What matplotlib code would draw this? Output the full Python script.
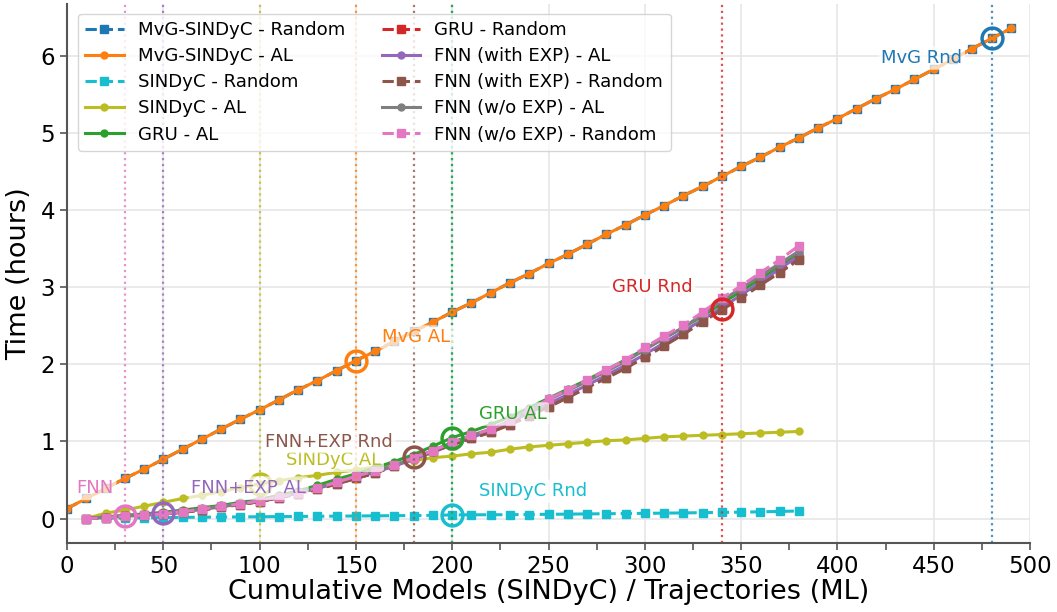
import numpy as np
import matplotlib
matplotlib.use("Agg")
import matplotlib.pyplot as plt
from matplotlib.ticker import MultipleLocator

# x positions
x_mvg = list(range(0, 500, 10))
x_main = list(range(10, 390, 10))

# MvG-SINDyC (hours)
mvg_al = [0.13, 0.26, 0.39, 0.52, 0.64, 0.77, 0.90, 1.03, 1.16, 1.29,
          1.41, 1.54, 1.67, 1.79, 1.92, 2.05, 2.17, 2.30, 2.43, 2.55,
          2.68, 2.80, 2.93, 3.06, 3.18, 3.31, 3.43, 3.56, 3.69, 3.81,
          3.94, 4.06, 4.19, 4.31, 4.44, 4.57, 4.69, 4.82, 4.94, 5.07,
          5.19, 5.32, 5.45, 5.57, 5.70, 5.83, 5.96, 6.10, 6.23, 6.36]
mvg_rnd = [0.13, 0.26, 0.39, 0.52, 0.64, 0.77, 0.90, 1.03, 1.16, 1.29,
           1.41, 1.54, 1.67, 1.79, 1.92, 2.05, 2.17, 2.30, 2.43, 2.55,
           2.68, 2.80, 2.93, 3.06, 3.18, 3.31, 3.43, 3.56, 3.69, 3.81,
           3.94, 4.06, 4.19, 4.31, 4.44, 4.57, 4.69, 4.82, 4.94, 5.07,
           5.19, 5.32, 5.45, 5.57, 5.70, 5.83, 5.96, 6.10, 6.23, 6.36]

# SINDyC
sindyc_rnd = [0.0, 0.003, 0.006, 0.009, 0.012, 0.015, 0.017, 0.019, 0.021, 0.023,
              0.025, 0.027, 0.029, 0.031, 0.033, 0.035, 0.037, 0.039, 0.041, 0.047,
              0.048, 0.049, 0.050, 0.052, 0.055, 0.057, 0.060, 0.062, 0.065, 0.067,
              0.070, 0.073, 0.076, 0.079, 0.083, 0.087, 0.092, 0.098]
sindyc_al = [0.0, 0.07, 0.11, 0.16, 0.21, 0.26, 0.30, 0.35, 0.40, 0.45,
             0.49, 0.53, 0.56, 0.60, 0.63, 0.67, 0.71, 0.75, 0.79, 0.81,
             0.84, 0.86, 0.90, 0.93, 0.95, 0.97, 0.99, 1.01, 1.02, 1.04,
             1.06, 1.07, 1.08, 1.09, 1.10, 1.11, 1.12, 1.13]

# NN models
gru_al = [0.0, 0.02, 0.04, 0.06, 0.08, 0.11, 0.14, 0.17, 0.21, 0.25,
          0.30, 0.36, 0.43, 0.51, 0.58, 0.66, 0.74, 0.83, 0.94, 1.05,
          1.13, 1.22, 1.32, 1.44, 1.56, 1.68, 1.80, 1.93, 2.06, 2.20,
          2.34, 2.48, 2.63, 2.79, 2.95, 3.11, 3.27, 3.44]
gru_rnd = [0.0, 0.01, 0.03, 0.04, 0.06, 0.08, 0.11, 0.15, 0.18, 0.22,
           0.27, 0.32, 0.38, 0.45, 0.52, 0.59, 0.68, 0.78, 0.87, 0.96,
           1.04, 1.12, 1.22, 1.33, 1.45, 1.57, 1.70, 1.83, 1.96, 2.10,
           2.25, 2.40, 2.56, 2.72, 2.87, 3.04, 3.20, 3.37]
fnn_exp_al = [0.0, 0.02, 0.04, 0.05, 0.07, 0.09, 0.12, 0.15, 0.19, 0.23,
              0.28, 0.33, 0.39, 0.46, 0.53, 0.60, 0.68, 0.77, 0.86, 0.96,
              1.05, 1.14, 1.25, 1.37, 1.49, 1.61, 1.73, 1.86, 1.99, 2.13,
              2.28, 2.43, 2.58, 2.74, 2.90, 3.07, 3.24, 3.41]
fnn_exp_rnd = [0.0, 0.01, 0.03, 0.04, 0.06, 0.08, 0.11, 0.15, 0.18, 0.22,
               0.27, 0.32, 0.38, 0.45, 0.52, 0.59, 0.68, 0.80, 0.87, 0.96,
               1.04, 1.12, 1.22, 1.33, 1.45, 1.57, 1.70, 1.82, 1.95, 2.09,
               2.24, 2.39, 2.55, 2.71, 2.86, 3.03, 3.19, 3.36]
fnn_al = [0.0, 0.01, 0.03, 0.04, 0.06, 0.09, 0.12, 0.16, 0.19, 0.23,
          0.28, 0.33, 0.40, 0.47, 0.55, 0.62, 0.69, 0.79, 0.88, 0.99,
          1.08, 1.16, 1.27, 1.40, 1.54, 1.66, 1.78, 1.91, 2.04, 2.19,
          2.34, 2.48, 2.65, 2.83, 2.99, 3.15, 3.31, 3.47]
fnn_rnd = [0.0, 0.01, 0.03, 0.04, 0.06, 0.09, 0.12, 0.16, 0.19, 0.23,
           0.28, 0.33, 0.40, 0.47, 0.55, 0.62, 0.69, 0.79, 0.88, 0.99,
           1.08, 1.16, 1.27, 1.40, 1.55, 1.67, 1.80, 1.93, 2.06, 2.22,
           2.37, 2.51, 2.68, 2.86, 3.02, 3.19, 3.36, 3.54]

# (series, x-value of marker, label, colour)
marks = [
    ("fnn_rnd", 30, "FNN", "#e377c2"),
    ("fnn_exp_al", 50, "FNN+EXP AL", "#9467bd"),
    ("sindyc_al", 100, "SINDyC AL", "#bcbd22"),
    ("mvg_al", 150, "MvG AL", "#ff7f0e"),
    ("fnn_exp_rnd", 180, "FNN+EXP Rnd", "#8c564b"),
    ("sindyc_rnd", 200, "SINDyC Rnd", "#17becf"),
    ("gru_al", 200, "GRU AL", "#2ca02c"),
    ("gru_rnd", 340, "GRU Rnd", "#d62728"),
    ("mvg_rnd", 480, "MvG Rnd", "#1f77b4"),
]
# text offsets in points
offsets = {
    "FNN": (-8, 20, "right"), "FNN+EXP AL": (20, 18, "left"),
    "SINDyC AL": (19, 17, "left"), "MvG AL": (19, 17, "left"),
    "FNN+EXP Rnd": (-15, 11, "right"), "SINDyC Rnd": (19, 17, "left"),
    "GRU AL": (19, 17, "left"), "GRU Rnd": (-21, 16, "right"),
    "MvG Rnd": (-21, -14, "right"),
}

series = {
    "mvg_rnd": (x_mvg, mvg_rnd), "mvg_al": (x_mvg, mvg_al),
    "sindyc_rnd": (x_main, sindyc_rnd), "sindyc_al": (x_main, sindyc_al),
    "gru_al": (x_main, gru_al), "gru_rnd": (x_main, gru_rnd),
    "fnn_exp_al": (x_main, fnn_exp_al), "fnn_exp_rnd": (x_main, fnn_exp_rnd),
    "fnn_al": (x_main, fnn_al), "fnn_rnd": (x_main, fnn_rnd),
}

styles = [
    ("mvg_rnd", "MvG-SINDyC - Random", "#1f77b4", "--", "s"),
    ("mvg_al", "MvG-SINDyC - AL", "#ff7f0e", "-", "o"),
    ("sindyc_rnd", "SINDyC - Random", "#17becf", "--", "s"),
    ("sindyc_al", "SINDyC - AL", "#bcbd22", "-", "o"),
    ("gru_al", "GRU - AL", "#2ca02c", "-", "o"),
    ("gru_rnd", "GRU - Random", "#d62728", "--", "s"),
    ("fnn_exp_al", "FNN (with EXP) - AL", "#9467bd", "-", "o"),
    ("fnn_exp_rnd", "FNN (with EXP) - Random", "#8c564b", "--", "s"),
    ("fnn_al", "FNN (w/o EXP) - AL", "#7f7f7f", "-", "o"),
    ("fnn_rnd", "FNN (w/o EXP) - Random", "#e377c2", "--", "s"),
]

fig = plt.figure(figsize=(10.57, 6.12), dpi=100)
ax = fig.add_axes([0.0634, 0.1127, 0.9111, 0.8808])

for key, label, color, ls, mk in styles:
    xs, ys = series[key]
    ax.plot(xs, ys, linestyle=ls, marker=mk, color=color, label=label,
            linewidth=2.2, markersize=5.5 if mk == "s" else 5)

for key, xv, text, color in marks:
    xs, ys = series[key]
    yv = ys[xs.index(xv)]
    ax.axvline(xv, color=color, linestyle=":", linewidth=1.6, alpha=0.8)
    ax.plot(xv, yv, marker="o", markersize=15, markerfacecolor="none",
            markeredgecolor=color, markeredgewidth=2.5, zorder=5)
    dx, dy, ha = offsets[text]
    ax.annotate(text, (xv, yv), xytext=(dx, dy), textcoords="offset points",
                ha=ha, va="center", fontsize=13, color=color, zorder=6,
                bbox=dict(boxstyle="round,pad=0.15", facecolor="white",
                          edgecolor="none", alpha=0.7))

ax.set_xlim(0, 500)
ax.xaxis.set_major_locator(MultipleLocator(50))
ax.xaxis.set_minor_locator(MultipleLocator(25))
ax.yaxis.set_major_locator(MultipleLocator(1))
ax.grid(True, which="major", color="#e6e6e6", linewidth=1.2)
ax.set_axisbelow(True)
for s in ["top", "right"]:
    ax.spines[s].set_visible(False)
for s in ["left", "bottom"]:
    ax.spines[s].set_color("#555555")
    ax.spines[s].set_linewidth(1.5)
ax.tick_params(axis="both", which="both", labelsize=16.5, colors="#555555",
               labelcolor="black", width=1.2, length=5)

ax.set_xlabel("Cumulative Models (SINDyC) / Trajectories (ML)", fontsize=19.5, labelpad=1)
ax.set_ylabel("Time (hours)", fontsize=19.5, labelpad=6)

ax.legend(loc="upper left", ncol=2, fontsize=13.1, framealpha=0.8,
          bbox_to_anchor=(0.002, 0.999), columnspacing=2.0, labelspacing=0.45,
          handlelength=2.1)

plt.savefig("out.png", dpi=100)
plt.close(fig)
